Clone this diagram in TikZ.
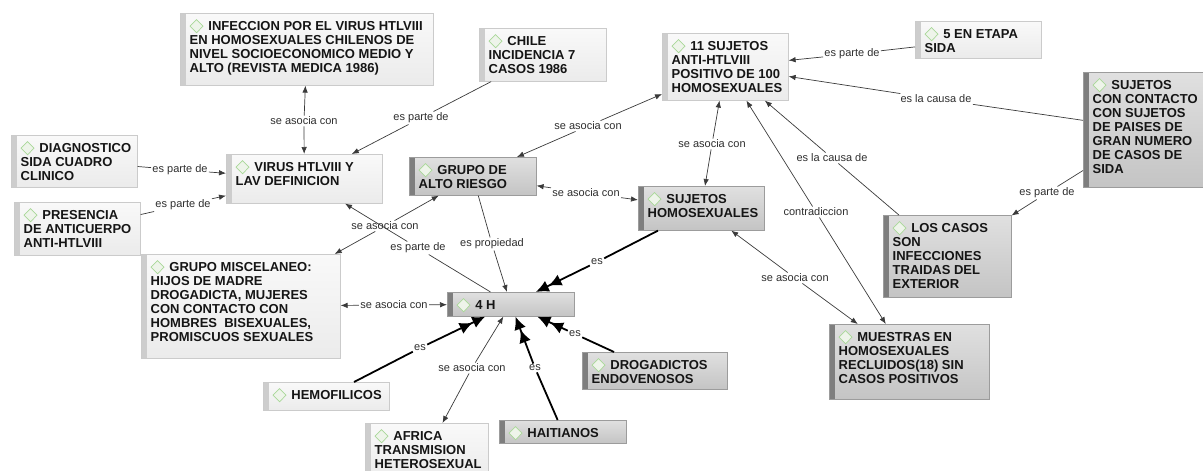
\documentclass[tikz,border=0pt]{standalone}
\usepackage{fontspec}
\setmainfont{Liberation Sans}
\usetikzlibrary{arrows.meta}

\definecolor{lighttop}{HTML}{F9F9F9}
\definecolor{lightbot}{HTML}{EBEBEB}
\definecolor{lightedge}{HTML}{CBCBCB}
\definecolor{lightbar}{HTML}{CDCDCD}
\definecolor{darktop}{HTML}{E0E0E0}
\definecolor{darkbot}{HTML}{C4C4C4}
\definecolor{darkedge}{HTML}{9C9C9C}
\definecolor{darkbar}{HTML}{7E7E7E}
\definecolor{textcol}{HTML}{151515}
\definecolor{linkcol}{HTML}{2E2E2E}
\definecolor{linecol}{HTML}{3A3A3A}
\definecolor{dmline}{HTML}{A9D898}
\definecolor{dmfill}{HTML}{EEF4EA}

% small concept marker drawn before each concept text
\newcommand\dmd{\tikz[baseline=0pt]\draw[dmline,fill=dmfill,line width=0.7pt]
  (0pt,4.7pt) -- (6.5pt,11.3pt) -- (13pt,4.7pt) -- (6.5pt,-1.9pt) -- cycle;}

\tikzset{
  lightbox/.style={draw=lightedge, line width=0.6pt, top color=lighttop, bottom color=lightbot,
    path picture={\fill[lightbar] (path picture bounding box.north west) rectangle
      ([xshift=6pt]path picture bounding box.south west);}},
  darkbox/.style={draw=darkedge, line width=0.6pt, top color=darktop, bottom color=darkbot,
    path picture={\fill[darkbar] (path picture bounding box.north west) rectangle
      ([xshift=6pt]path picture bounding box.south west);}},
  ctext/.style={anchor=north west, inner sep=0pt, align=left,
    font=\fontsize{13}{14}\selectfont\bfseries, text=textcol},
  lnk/.style={inner sep=1.2pt, font=\fontsize{11}{12}\selectfont, text=linkcol},
  rel/.style={draw=linecol, line width=0.7pt},
  relto/.style={rel, -{Latex[length=7pt,width=5.5pt]}},
  isa/.style={draw=black, line width=1.8pt},
  isato/.style={isa, -{Latex[length=13pt,width=12pt,sep=1pt]Latex[length=13pt,width=12pt]}},
}

% \concept{name}{style}{left}{top}{width}{height}{text}
\newcommand\concept[7]{%
  \node[#2, minimum width=#5pt, minimum height=#6pt, anchor=north west, inner sep=0pt] (#1) at (#3,#4) {};
  \node[ctext] at ([xshift=9.5pt,yshift=-6pt]#1.north west) {\dmd\hspace{5pt}#7};}

\begin{document}
\begin{tikzpicture}[x=1pt,y=-1pt]
\clip (0,0) rectangle (1203,471);

% concepts
\concept{infec}{lightbox}{180}{13}{253}{72}{INFECCION POR EL VIRUS HTLVIII\\EN HOMOSEXUALES CHILENOS DE\\NIVEL SOCIOECONOMICO MEDIO Y\\ALTO (REVISTA MEDICA 1986)}
\concept{chile}{lightbox}{479}{28}{127}{53}{CHILE\\INCIDENCIA 7\\CASOS 1986}
\concept{once}{lightbox}{662}{33}{126}{67}{11 SUJETOS\\ANTI-HTLVIII\\POSITIVO DE 100\\HOMOSEXUALES}
\concept{cinco}{lightbox}{915}{21}{126}{37}{5 EN ETAPA\\SIDA}
\concept{contacto}{darkbox}{1083}{72}{130}{115}{SUJETOS\\CON CONTACTO\\CON SUJETOS\\DE PAISES DE\\GRAN NUMERO\\DE CASOS DE\\SIDA}
\concept{diag}{lightbox}{11}{135}{126}{52}{DIAGNOSTICO\\SIDA CUADRO\\CLINICO}
\concept{virus}{lightbox}{226}{154}{156}{49}{VIRUS HTLVIII Y\\LAV DEFINICION}
\concept{presencia}{lightbox}{14}{202}{126}{53}{PRESENCIA\\DE ANTICUERPO\\ANTI-HTLVIII}
\concept{alto}{darkbox}{409}{157}{127}{38}{GRUPO DE\\ALTO RIESGO}
\concept{homo}{darkbox}{638}{186}{126}{44}{SUJETOS\\HOMOSEXUALES}
\concept{casos}{darkbox}{883}{215}{128}{82}{LOS CASOS\\SON\\INFECCIONES\\TRAIDAS DEL\\EXTERIOR}
\concept{misc}{lightbox}{141}{254}{199}{104}{GRUPO MISCELANEO:\\HIJOS DE MADRE\\DROGADICTA, MUJERES\\CON CONTACTO CON\\HOMBRES\ \ BISEXUALES,\\PROMISCUOS SEXUALES}
\concept{cuatro}{darkbox}{447}{292}{127}{24}{4 H}
\concept{hemo}{lightbox}{263}{382}{126}{28}{HEMOFILICOS}
\concept{africa}{lightbox}{365}{423}{123}{58}{AFRICA\\TRANSMISION\\HETEROSEXUAL}
\concept{haiti}{darkbox}{499}{420}{127}{23}{HAITIANOS}
\concept{droga}{darkbox}{582}{352}{145}{37}{DROGADICTOS\\ENDOVENOSOS}
\concept{muestras}{darkbox}{829}{324}{160}{75}{MUESTRAS EN\\HOMOSEXUALES\\RECLUIDOS(18) SIN\\CASOS POSITIVOS}

% linking phrases
\node[lnk] (l1)  at (304,121)  {se asocia con};
\node[lnk] (l2)  at (421,118)  {es parte de};
\node[lnk] (l3)  at (180,170)  {es parte de};
\node[lnk] (l4)  at (183,205)  {es parte de};
\node[lnk] (l5)  at (385,226)  {se asocia con};
\node[lnk] (l6)  at (418,248)  {es parte de};
\node[lnk] (l7)  at (492,244)  {es propiedad};
\node[lnk] (l8)  at (586,193)  {se asocia con};
\node[lnk] (l9)  at (588,126)  {se asocia con};
\node[lnk] (l10) at (712,144)  {se asocia con};
\node[lnk] (l11) at (852,54)   {es parte de};
\node[lnk] (l12) at (936,99)   {es la causa de};
\node[lnk] (l13) at (832,158)  {es la causa de};
\node[lnk] (l14) at (816,212)  {contradiccion};
\node[lnk] (l15) at (795,278)  {se asocia con};
\node[lnk] (l16) at (1047,193) {es parte de};
\node[lnk] (l17) at (597,262)  {es};
\node[lnk] (l18) at (394,305)  {se asocia con};
\node[lnk] (l19) at (420,348)  {es};
\node[lnk] (l20) at (472,368)  {se asocia con};
\node[lnk] (l21) at (535,368)  {es};
\node[lnk] (l22) at (575,334)  {es};

% thin connectors
\draw[relto] (l1) -- (infec);
\draw[relto] (l1) -- (virus);
\draw[rel]   (chile) -- (l2);
\draw[relto] (l2) -- (virus);
\draw[rel]   (diag) -- (l3);
\draw[relto] (l3) -- (virus);
\draw[rel]   (presencia) -- (l4);
\draw[relto] (l4) -- (virus);
\draw[relto] (l5) -- (alto);
\draw[relto] (l5) -- (misc);
\draw[rel]   (cuatro) -- (l6);
\draw[relto] (l6) -- (virus);
\draw[rel]   (alto) -- (l7);
\draw[relto] (l7) -- (cuatro);
\draw[relto] (l8) -- (alto);
\draw[relto] (l8) -- (homo);
\draw[relto] (l9) -- (alto);
\draw[relto] (l9) -- (once);
\draw[relto] (l10) -- (once);
\draw[relto] (l10) -- (homo);
\draw[rel]   (cinco) -- (l11);
\draw[relto] (l11) -- (once);
\draw[rel]   (contacto) -- (l12);
\draw[relto] (l12) -- (once);
\draw[rel]   (casos) -- (l13);
\draw[relto] (l13) -- (once);
\draw[relto] (l14) -- (once);
\draw[relto] (l14) -- (muestras);
\draw[relto] (l15) -- (homo);
\draw[relto] (l15) -- (muestras);
\draw[rel]   (contacto) -- (l16);
\draw[relto] (l16) -- (casos);
\draw[relto] (l18) -- (misc);
\draw[relto] (l18) -- (cuatro);
\draw[relto] (l20) -- (cuatro);
\draw[relto] (l20) -- (africa);

% thick "es" connectors
\draw[isa]   (homo) -- (l17);
\draw[isato] (l17) -- (cuatro);
\draw[isa]   (hemo) -- (l19);
\draw[isato] (l19) -- (cuatro);
\draw[isa]   (haiti) -- (l21);
\draw[isato] (l21) -- (cuatro);
\draw[isa]   (droga) -- (l22);
\draw[isato] (l22) -- (cuatro);
\end{tikzpicture}
\end{document}
